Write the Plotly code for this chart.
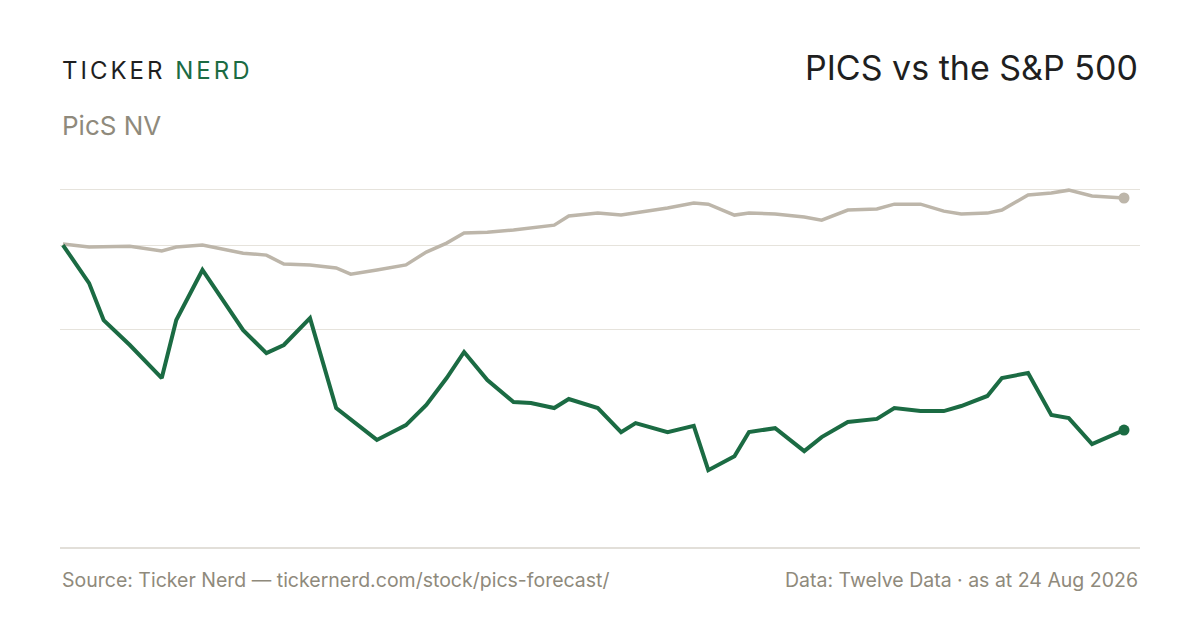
import plotly.graph_objects as go

# day offsets (0 = 24 Aug 2025) and % change from start
pics_days = [0, 9, 14, 23, 34, 39, 48, 62, 70, 76, 85, 94, 108, 118, 125, 132, 138, 146, 155, 161,
             169, 174, 184, 192, 197, 208, 217, 222, 231, 236, 245, 255, 261, 270, 280, 286, 295,
             303, 309, 318, 323, 332, 340, 346, 354, 365]
pics_vals = [0, -13.6, -26.8, -35.7, -47.5, -26.8, -8.9, -30.4, -38.6, -35.7, -26.1, -58.2, -69.6,
             -64.3, -57.1, -47.5, -38.2, -48.2, -56.1, -56.4, -58.2, -55.0, -58.2, -66.8, -63.6,
             -66.8, -64.6, -80.4, -75.4, -66.8, -65.4, -73.6, -68.6, -63.2, -62.1, -58.2, -59.3,
             -59.3, -57.5, -53.9, -47.5, -45.7, -60.7, -61.8, -71.1, -66.1]
spx_days = [0, 9, 23, 34, 39, 48, 62, 70, 76, 85, 94, 99, 108, 118, 125, 132, 138, 146, 155, 161,
            169, 174, 184, 192, 197, 208, 217, 222, 231, 236, 245, 255, 261, 270, 280, 286, 295,
            303, 309, 318, 323, 332, 340, 346, 354, 365]
spx_vals = [0.4, -0.7, -0.4, -2.1, -0.7, 0, -2.9, -3.6, -6.8, -7.1, -8.2, -10.4, -8.9, -7.1, -2.5,
            0.7, 4.3, 4.6, 5.4, 6.1, 7.1, 10.4, 11.4, 10.7, 11.4, 13.2, 15.0, 14.6, 10.7, 11.4,
            11.1, 10.0, 8.9, 12.5, 12.9, 14.6, 14.6, 12.1, 11.1, 11.4, 12.5, 17.9, 18.6, 19.6,
            17.5, 16.8]
grid_vals = [-30, 0, 20]

GREEN = "#1b6b43"
GREY = "#bdb6aa"
MUTED = "#8f8a7c"

fig = go.Figure()
fig.add_trace(go.Scatter(x=spx_days, y=spx_vals, mode="lines",
                         line=dict(color=GREY, width=3.5), hoverinfo="skip"))
fig.add_trace(go.Scatter(x=spx_days[-1:], y=spx_vals[-1:], mode="markers",
                         marker=dict(color=GREY, size=11), hoverinfo="skip"))
fig.add_trace(go.Scatter(x=pics_days, y=pics_vals, mode="lines",
                         line=dict(color=GREEN, width=4), hoverinfo="skip"))
fig.add_trace(go.Scatter(x=pics_days[-1:], y=pics_vals[-1:], mode="markers",
                         marker=dict(color=GREEN, size=11), hoverinfo="skip"))

fig.update_layout(
    width=1200, height=630, showlegend=False,
    paper_bgcolor="white", plot_bgcolor="white",
    margin=dict(l=52, r=68, t=162, b=90),
    font=dict(family="Inter, Roboto, sans-serif"),
    xaxis=dict(range=[-1.0, 370.5], showgrid=False, zeroline=False, showticklabels=False,
               showline=False),
    yaxis=dict(range=[-108.2, 26.8], tickvals=grid_vals, showticklabels=False,
               gridcolor="#e6e3dc", gridwidth=1, zeroline=False, showline=False),
    shapes=[dict(type="line", xref="paper", yref="paper", x0=0, x1=1, y0=0, y1=0,
                 line=dict(color="#d9d5cc", width=1.5))],
    annotations=[
        dict(text="<span style='letter-spacing:3px'>TICKER <span style='color:%s'>NERD</span></span>" % GREEN,
             xref="paper", yref="paper", x=0, y=1.0, yanchor="middle", xanchor="left",
             yshift=170 - 70, showarrow=False,
             font=dict(size=24, color="#1f1f1f")),
        dict(text="PicS NV", xref="paper", yref="paper", x=0, y=1.0, xanchor="left",
             yanchor="middle", yshift=170 - 125, showarrow=False,
             font=dict(size=26, color=MUTED)),
        dict(text="PICS vs the S&amp;P 500", xref="paper", yref="paper", x=1, y=1.0,
             xanchor="right", yanchor="middle", yshift=170 - 67, showarrow=False,
             font=dict(size=34, color="#1f1f1f")),
        dict(text="Source: Ticker Nerd — tickernerd.com/stock/pics-forecast/", xref="paper",
             yref="paper", x=0, y=0, xanchor="left", yanchor="middle", yshift=548 - 580,
             showarrow=False, font=dict(size=19.5, color=MUTED)),
        dict(text="Data: Twelve Data · as at 24 Aug 2026", xref="paper", yref="paper", x=1, y=0,
             xanchor="right", yanchor="middle", yshift=548 - 580, showarrow=False,
             font=dict(size=19.5, color=MUTED)),
    ],
)

fig.write_html("out.html")
